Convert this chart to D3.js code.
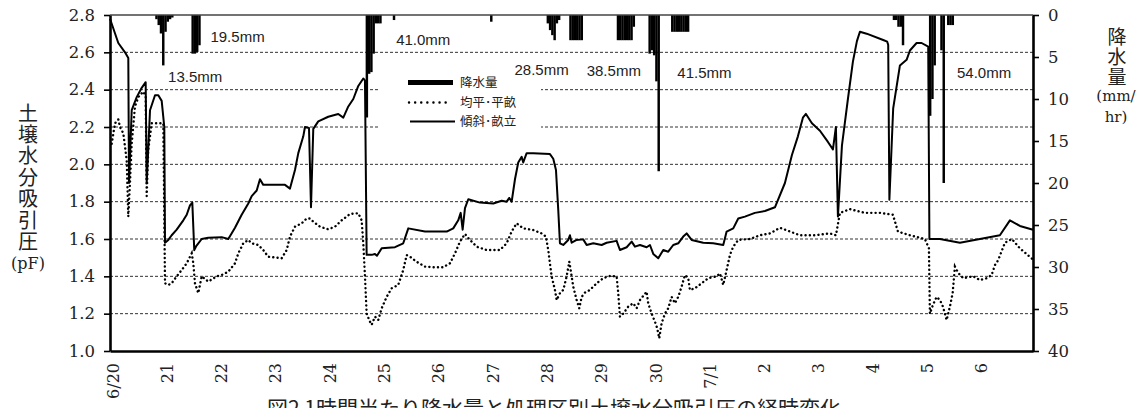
<!DOCTYPE html>
<html>
<head>
<meta charset="utf-8">
<script src="https://cdn.jsdelivr.net/npm/d3@7"></script>
<style>
  body { margin: 0; background: #fff; }
  svg { display: block; }
  .serif { font-family: "DejaVu Serif", "Liberation Serif", serif; }
  .jp { font-family: "Noto Sans CJK JP", "Noto Sans", sans-serif; }
</style>
</head>
<body>
<svg id="chart" width="1137" height="408"></svg>
<script>
// ---- data -------------------------------------------------------------
// day labels along the time axis (6/20 .. 7/6)
const dayLabels = ["6/20", "21", "22", "23", "24", "25", "26", "27", "28", "29", "30",
                   "7/1", "2", "3", "4", "5", "6"];

// hourly rainfall: hour index counted from 6/20 0:00, amount in mm/hr
const rainHour = [20, 21, 22, 23, 24, 25, 26, 27,
                  36, 37, 38, 39,
                  113, 114, 115, 116, 117, 118, 119, 125,
                  168,
                  193, 194, 195, 196, 197, 198, 203, 204, 205, 206, 207, 208,
                  224, 225, 226, 227, 228, 229, 230, 231, 238, 239,
                  240, 241, 242, 248, 249, 250, 251, 252, 253, 254, 255,
                  346, 347, 348, 349, 350,
                  362, 363, 364, 367, 368, 370, 371, 372];
const rainMm   = [0.5, 1.2, 2.2, 6.0, 2.0, 0.8, 0.5, 0.3,
                  4.6, 4.6, 4.4, 3.6,
                  12.2, 7.0, 6.8, 4.6, 1.0, 1.0, 1.0, 0.6,
                  0.8,
                  1.0, 1.8, 2.4, 3.0, 1.0, 0.6, 3.0, 3.0, 3.0, 3.0, 3.0, 3.0,
                  3.0, 3.0, 3.0, 3.0, 3.0, 3.0, 3.0, 1.4, 4.6, 4.2,
                  4.8, 7.9, 18.6, 2.0, 2.0, 2.0, 2.0, 2.0, 2.0, 2.0, 2.0,
                  0.6, 0.6, 1.4, 1.4, 3.6,
                  12.0, 10.0, 6.0, 4.2, 20.0, 1.2, 1.2, 1.2];

// daily rainfall totals written above the curves
const rainTotals = ["13.5mm", "19.5mm", "41.0mm", "28.5mm", "38.5mm", "41.5mm", "54.0mm"];

// soil water suction (pF), flat bed plot: time in days from 6/20 0:00
const flatDay = [0.031, 0.092, 0.153, 0.184, 0.245, 0.276, 0.308, 0.337, 0.368, 0.400,
  0.460, 0.521, 0.613, 0.657, 0.676, 0.705, 0.768, 0.890, 0.982, 1.013,
  1.074, 1.136, 1.228, 1.320, 1.413, 1.505, 1.534, 1.565, 1.626, 1.689,
  1.810, 1.965, 2.057, 2.179, 2.302, 2.363, 2.455, 2.547, 2.610, 2.731,
  2.823, 2.915, 3.162, 3.254, 3.315, 3.407, 3.530, 3.622, 3.683, 3.744,
  3.867, 4.020, 4.144, 4.267, 4.420, 4.573, 4.635, 4.665, 4.696, 4.727,
  4.788, 4.819, 4.880, 4.941, 5.004, 5.096, 5.188, 5.309, 5.401, 5.464,
  5.525, 5.648, 5.801, 5.954, 6.138, 6.262, 6.354, 6.446, 6.538, 6.630,
  6.753, 6.937, 7.182, 7.306, 7.398, 7.490, 7.611, 7.796, 7.950, 8.029,
  8.072, 8.134, 8.195, 8.227, 8.287, 8.348, 8.411, 8.459, 8.503, 8.532,
  8.595, 8.643, 8.687, 8.748, 8.840, 8.963, 9.085, 9.208, 9.331, 9.361,
  9.392, 9.453, 9.545, 9.637, 9.700, 9.761, 9.884, 9.913, 9.976, 10.037,
  10.079, 10.116, 10.160, 10.221, 10.282, 10.344, 10.405, 10.466, 10.528, 10.589,
  10.650, 10.681, 10.773, 10.897, 11.018, 11.173, 11.234, 11.295, 11.357, 11.418,
  11.479, 11.571, 11.786, 11.971, 12.155, 12.339, 12.523, 12.707, 12.983, 13.260,
  13.370, 13.444, 13.628, 13.904, 14.180, 14.420, 14.512, 14.733, 15.009, 15.083,
  15.101, 15.157, 15.225, 15.285, 15.341, 15.409, 15.470, 15.520, 15.562, 15.623,
  15.715, 15.900, 16.022, 16.145, 16.238, 16.298, 16.359, 16.483, 16.611, 16.759,
  17.000];
const flatPF = [2.11, 2.22, 2.24, 2.20, 2.166, 2.095, 2.02, 1.72, 1.90, 2.11,
  2.31, 2.36, 2.39, 2.36, 1.83, 2.08, 2.22, 2.22, 2.22, 1.363,
  1.354, 1.363, 1.40, 1.434, 1.47, 1.523, 1.47, 1.363, 1.31, 1.40,
  1.372, 1.40, 1.407, 1.425, 1.47, 1.523, 1.577, 1.595, 1.577, 1.568,
  1.541, 1.505, 1.497, 1.541, 1.613, 1.666, 1.684, 1.71, 1.71, 1.693,
  1.666, 1.652, 1.666, 1.70, 1.734, 1.738, 1.70, 1.577, 1.40, 1.20,
  1.157, 1.14, 1.184, 1.166, 1.229, 1.29, 1.336, 1.354, 1.434, 1.514,
  1.505, 1.478, 1.452, 1.449, 1.449, 1.47, 1.523, 1.586, 1.627, 1.595,
  1.559, 1.541, 1.541, 1.577, 1.64, 1.684, 1.657, 1.648, 1.63, 1.613,
  1.541, 1.40, 1.327, 1.273, 1.31, 1.327, 1.40, 1.479, 1.40, 1.345,
  1.273, 1.229, 1.29, 1.313, 1.327, 1.363, 1.39, 1.402, 1.40, 1.31,
  1.184, 1.20, 1.238, 1.256, 1.229, 1.273, 1.318, 1.256, 1.20, 1.157,
  1.122, 1.068, 1.149, 1.20, 1.229, 1.29, 1.256, 1.29, 1.345, 1.407,
  1.39, 1.327, 1.336, 1.363, 1.39, 1.40, 1.416, 1.354, 1.434, 1.514,
  1.559, 1.595, 1.60, 1.62, 1.63, 1.66, 1.64, 1.62, 1.62, 1.63,
  1.62, 1.74, 1.76, 1.74, 1.74, 1.73, 1.64, 1.62, 1.60, 1.55,
  1.20, 1.247, 1.29, 1.273, 1.238, 1.166, 1.238, 1.31, 1.452, 1.418,
  1.39, 1.40, 1.38, 1.39, 1.407, 1.46, 1.487, 1.58, 1.60, 1.55,
  1.49];

// soil water suction (pF), sloped ridge plot
const slopeDay = [0.000, 0.153, 0.276, 0.337, 0.350, 0.400, 0.492, 0.584, 0.657, 0.676,
  0.737, 0.829, 0.890, 0.952, 1.000, 1.013, 1.074, 1.136, 1.228, 1.350,
  1.413, 1.473, 1.516, 1.552, 1.584, 1.689, 1.810, 2.057, 2.179, 2.302,
  2.425, 2.547, 2.610, 2.702, 2.762, 2.823, 2.915, 3.223, 3.315, 3.407,
  3.468, 3.560, 3.591, 3.665, 3.702, 3.744, 3.836, 4.020, 4.204, 4.297,
  4.389, 4.481, 4.573, 4.665, 4.696, 4.727, 4.819, 4.880, 4.917, 5.004,
  5.249, 5.401, 5.494, 5.801, 5.954, 6.201, 6.322, 6.414, 6.459, 6.495,
  6.538, 6.599, 6.814, 7.059, 7.214, 7.306, 7.354, 7.398, 7.459, 7.519,
  7.582, 7.611, 7.674, 7.796, 8.103, 8.164, 8.214, 8.256, 8.287, 8.348,
  8.440, 8.471, 8.503, 8.595, 8.716, 8.779, 8.901, 9.055, 9.147, 9.331,
  9.392, 9.516, 9.608, 9.669, 9.761, 9.884, 9.945, 10.006, 10.098, 10.190,
  10.282, 10.374, 10.466, 10.558, 10.621, 10.713, 10.926, 11.110, 11.295, 11.357,
  11.479, 11.571, 11.694, 11.878, 12.063, 12.247, 12.431, 12.560, 12.670, 12.762,
  12.818, 12.928, 13.076, 13.223, 13.315, 13.370, 13.407, 13.481, 13.591, 13.683,
  13.757, 13.812, 13.936, 14.241, 14.315, 14.333, 14.355, 14.425, 14.549, 14.672,
  14.733, 14.794, 14.856, 14.948, 15.070, 15.092, 15.285, 15.654, 16.022, 16.390,
  16.575, 16.759, 17.000];
const slopePF = [2.78, 2.65, 2.60, 2.57, 1.90, 2.29, 2.36, 2.41, 2.44, 1.90,
  2.29, 2.37, 2.37, 2.34, 2.20, 1.58, 1.595, 1.62, 1.65, 1.70,
  1.73, 1.78, 1.795, 1.54, 1.56, 1.60, 1.607, 1.61, 1.60, 1.66,
  1.73, 1.79, 1.83, 1.86, 1.92, 1.89, 1.89, 1.89, 1.87, 1.97,
  2.06, 2.15, 2.20, 2.195, 1.77, 2.19, 2.23, 2.255, 2.27, 2.25,
  2.31, 2.35, 2.42, 2.46, 2.45, 1.515, 1.515, 1.52, 1.51, 1.55,
  1.556, 1.577, 1.657, 1.64, 1.64, 1.64, 1.657, 1.70, 1.74, 1.65,
  1.765, 1.813, 1.795, 1.79, 1.805, 1.80, 1.82, 1.80, 1.92, 2.01,
  2.04, 2.01, 2.06, 2.06, 2.055, 2.03, 1.97, 1.756, 1.577, 1.568,
  1.595, 1.62, 1.58, 1.595, 1.598, 1.568, 1.577, 1.568, 1.58, 1.59,
  1.541, 1.556, 1.586, 1.559, 1.568, 1.556, 1.568, 1.52, 1.497, 1.541,
  1.532, 1.568, 1.577, 1.613, 1.63, 1.595, 1.58, 1.577, 1.568, 1.64,
  1.657, 1.71, 1.72, 1.74, 1.75, 1.77, 1.90, 2.05, 2.15, 2.25,
  2.27, 2.22, 2.18, 2.12, 2.08, 2.20, 1.72, 2.10, 2.35, 2.55,
  2.66, 2.71, 2.70, 2.666, 2.657, 2.64, 1.81, 2.30, 2.53, 2.56,
  2.61, 2.63, 2.65, 2.65, 2.63, 1.60, 1.60, 1.58, 1.60, 1.62,
  1.70, 1.67, 1.65];

const pfTicks   = [1.0, 1.2, 1.4, 1.6, 1.8, 2.0, 2.2, 2.4, 2.6, 2.8];
const rainTicks = [0, 5, 10, 15, 20, 25, 30, 35, 40];

// ---- layout -----------------------------------------------------------
const svg = d3.select("#chart");
const plot = { left: 110, right: 1033, top: 15, bottom: 351 };

const x = d3.scaleLinear().domain([0, dayLabels.length]).range([plot.left, plot.right]);
const yPF = d3.scaleLinear().domain([1.0, 2.8]).range([plot.bottom, plot.top]);
const yRain = d3.scaleLinear().domain([0, 40]).range([plot.top, plot.bottom]);

// where the daily totals are written: [day, pF]
const totalAnchors = [[1.07, 2.44], [1.85, 2.655], [5.27, 2.64], [7.45, 2.48],
                      [8.78, 2.475], [10.45, 2.46], [15.6, 2.46]];

// ---- horizontal grid ---------------------------------------------------
const grid = svg.append("g");
pfTicks.filter(v => v > 1.0 && v < 2.8).forEach(v => {
  grid.append("line")
    .attr("x1", plot.left).attr("x2", plot.right)
    .attr("y1", yPF(v)).attr("y2", yPF(v))
    .attr("stroke", "#333").attr("stroke-width", 1)
    .attr("stroke-dasharray", "3,2");
});

// ---- legend box (white, hides the grid behind it) ---------------------
svg.append("rect")
  .attr("x", 380).attr("y", 60).attr("width", 161).attr("height", 80)
  .attr("fill", "#fff");

// ---- rainfall bars hanging from the top ---------------------------------
const barW = x(1 / 24) - x(0);
svg.append("g").selectAll("rect")
  .data(rainHour.map((h, i) => ({ h, mm: rainMm[i] })))
  .join("rect")
  .attr("x", d => x(d.h / 24))
  .attr("y", yRain(0))
  .attr("width", barW + 0.2)
  .attr("height", d => yRain(d.mm) - yRain(0))
  .attr("fill", "#000");

// ---- suction curves -----------------------------------------------------
const line = d3.line().x(d => x(d[0])).y(d => yPF(d[1]));

svg.append("path")
  .datum(flatDay.map((t, i) => [t, flatPF[i]]))
  .attr("d", line)
  .attr("fill", "none")
  .attr("stroke", "#000")
  .attr("stroke-width", 2.4)
  .attr("stroke-linecap", "round")
  .attr("stroke-dasharray", "0.1,4.2");

svg.append("path")
  .datum(slopeDay.map((t, i) => [t, slopePF[i]]))
  .attr("d", line)
  .attr("fill", "none")
  .attr("stroke", "#000")
  .attr("stroke-width", 2)
  .attr("stroke-linejoin", "round");

// ---- daily totals -------------------------------------------------------
svg.append("g").selectAll("text")
  .data(rainTotals)
  .join("text")
  .attr("x", (d, i) => x(totalAnchors[i][0]))
  .attr("y", (d, i) => yPF(totalAnchors[i][1]))
  .style("font-family", "'Liberation Sans', Arial, sans-serif")
  .attr("font-size", 15)
  .attr("fill", "#222")
  .text(d => d);

// ---- frame and axes -----------------------------------------------------
svg.append("line")
  .attr("x1", plot.left).attr("x2", plot.right)
  .attr("y1", plot.top).attr("y2", plot.top)
  .attr("stroke", "#444").attr("stroke-width", 1.5);

const leftAxis = d3.axisLeft(yPF).tickValues(pfTicks).tickFormat(d3.format(".1f"))
  .tickSizeInner(6).tickSizeOuter(0).tickPadding(9);
const gl = svg.append("g").attr("transform", `translate(${plot.left},0)`).call(leftAxis);

const rightAxis = d3.axisRight(yRain).tickValues(rainTicks)
  .tickSizeInner(6).tickSizeOuter(0).tickPadding(9);
const gr = svg.append("g").attr("transform", `translate(${plot.right},0)`).call(rightAxis);

const bottomAxis = d3.axisBottom(x).tickValues(d3.range(dayLabels.length))
  .tickFormat(i => dayLabels[i]).tickSize(0).tickPadding(0);
const gb = svg.append("g").attr("transform", `translate(0,${plot.bottom})`).call(bottomAxis);

[gl, gr, gb].forEach(g => {
  g.attr("font-family", null);
  g.select(".domain").attr("stroke", "#000").attr("stroke-width", 2.6);
  g.selectAll(".tick line").attr("stroke", "#000").attr("stroke-width", 1.6);
  g.selectAll(".tick text").attr("class", "serif").attr("fill", "#222").attr("font-size", 16.5);
});

gb.selectAll(".tick text")
  .attr("font-size", 16)
  .attr("text-anchor", "end")
  .attr("transform", "translate(2.5,12) rotate(-90)")
  .attr("x", 0).attr("y", 0).attr("dy", "0.35em");

// ---- axis titles --------------------------------------------------------
svg.append("text")
  .attr("class", "jp")
  .attr("x", 28).attr("y", 103)
  .style("writing-mode", "vertical-rl")
  .style("letter-spacing", "1.4px")
  .attr("font-size", 20).attr("fill", "#222")
  .text("土壌水分吸引圧");
svg.append("text")
  .attr("class", "serif")
  .attr("x", 28).attr("y", 269)
  .attr("text-anchor", "middle")
  .attr("font-size", 16).attr("fill", "#222")
  .text("(pF)");

svg.append("text")
  .attr("class", "jp")
  .attr("x", 1117).attr("y", 27)
  .style("writing-mode", "vertical-rl")
  .style("letter-spacing", "1px")
  .attr("font-size", 19).attr("fill", "#222")
  .text("降水量");
svg.append("text")
  .attr("class", "serif")
  .attr("x", 1116).attr("y", 101)
  .attr("text-anchor", "middle")
  .attr("font-size", 15).attr("fill", "#222")
  .text("(mm/");
svg.append("text")
  .attr("class", "serif")
  .attr("x", 1116).attr("y", 122)
  .attr("text-anchor", "middle")
  .attr("font-size", 15).attr("fill", "#222")
  .text("hr)");

// ---- legend -------------------------------------------------------------
const lg = svg.append("g").attr("class", "jp").attr("font-size", 12.5).attr("fill", "#222");
lg.append("rect").attr("x", 408).attr("y", 80).attr("width", 45).attr("height", 5).attr("fill", "#000");
lg.append("text").attr("x", 460).attr("y", 87).text("降水量");
lg.append("line").attr("x1", 409).attr("x2", 449).attr("y1", 102.5).attr("y2", 102.5)
  .attr("stroke", "#000").attr("stroke-width", 2.4).attr("stroke-linecap", "round")
  .attr("stroke-dasharray", "0.1,6");
lg.append("text").attr("x", 460).attr("y", 107).text("均平･平畝");
lg.append("line").attr("x1", 410).attr("x2", 455).attr("y1", 121.5).attr("y2", 121.5)
  .attr("stroke", "#000").attr("stroke-width", 2);
lg.append("text").attr("x", 460).attr("y", 126).text("傾斜･畝立");

// ---- caption ------------------------------------------------------------
svg.append("text")
  .attr("class", "jp")
  .attr("x", 267).attr("y", 416)
  .attr("font-size", 21).attr("fill", "#222")
  .text("図2 1時間当たり降水量と処理区別土壌水分吸引圧の経時変化");
</script>
</body>
</html>
